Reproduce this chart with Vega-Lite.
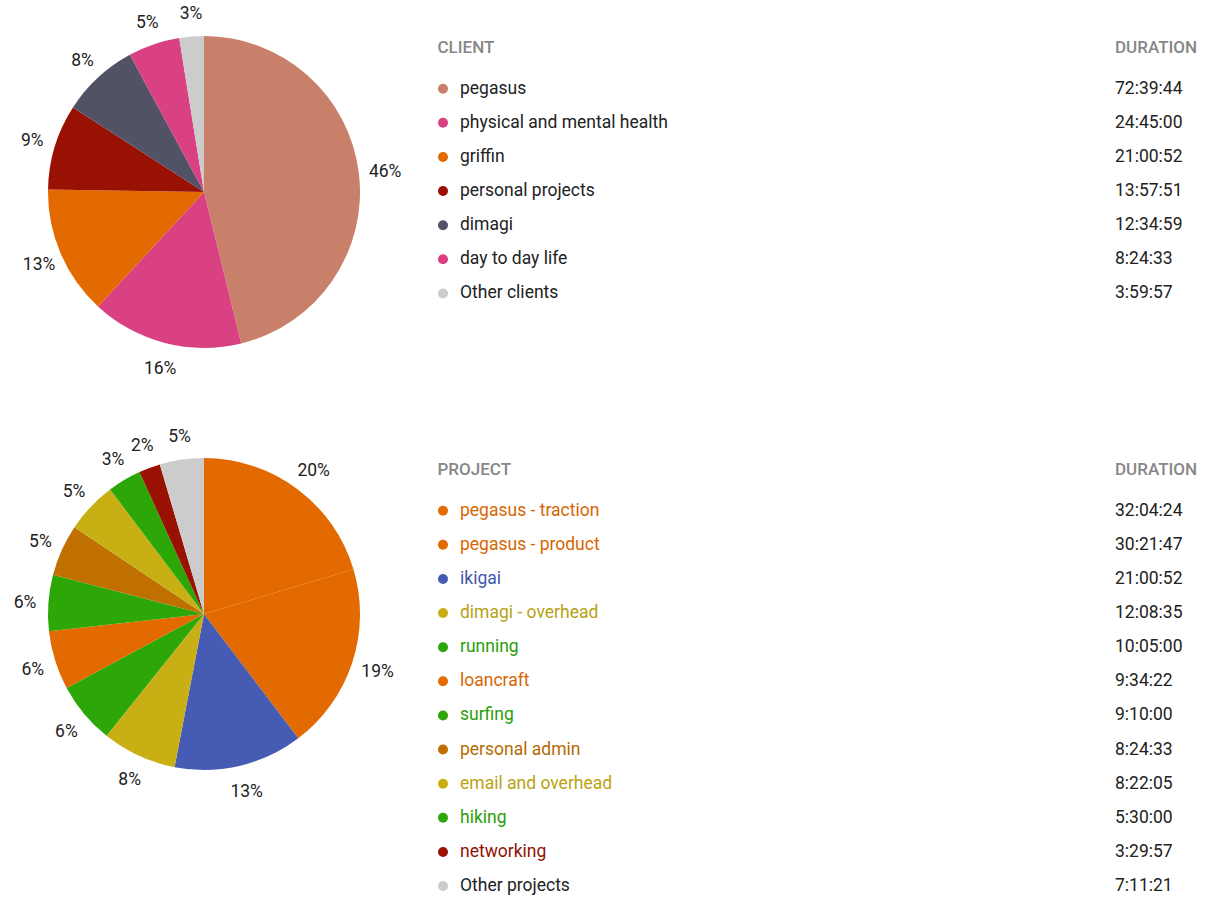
{
  "$schema": "https://vega.github.io/schema/vega-lite/v6.json",
  "padding": 0,
  "background": "white",
  "config": {"view": {"stroke": null}, "font": "Roboto"},
  "datasets": {
    "clients": [
      {"order": 1, "name": "pegasus", "sec": 261584, "duration": "72:39:44", "pct": "46%"},
      {"order": 2, "name": "physical and mental health", "sec": 89100, "duration": "24:45:00", "pct": "16%"},
      {"order": 3, "name": "griffin", "sec": 75652, "duration": "21:00:52", "pct": "13%"},
      {"order": 4, "name": "personal projects", "sec": 50271, "duration": "13:57:51", "pct": "9%"},
      {"order": 5, "name": "dimagi", "sec": 45299, "duration": "12:34:59", "pct": "8%"},
      {"order": 6, "name": "day to day life", "sec": 30273, "duration": "8:24:33", "pct": "5%"},
      {"order": 7, "name": "Other clients", "sec": 14397, "duration": "3:59:57", "pct": "3%"}
    ],
    "projects": [
      {"order": 1, "name": "pegasus - traction", "sec": 115464, "duration": "32:04:24", "pct": "20%"},
      {"order": 2, "name": "pegasus - product", "sec": 109307, "duration": "30:21:47", "pct": "19%"},
      {"order": 3, "name": "ikigai", "sec": 75652, "duration": "21:00:52", "pct": "13%"},
      {"order": 4, "name": "dimagi - overhead", "sec": 43715, "duration": "12:08:35", "pct": "8%"},
      {"order": 5, "name": "running", "sec": 36300, "duration": "10:05:00", "pct": "6%"},
      {"order": 6, "name": "loancraft", "sec": 34462, "duration": "9:34:22", "pct": "6%"},
      {"order": 7, "name": "surfing", "sec": 33000, "duration": "9:10:00", "pct": "6%"},
      {"order": 8, "name": "personal admin", "sec": 30273, "duration": "8:24:33", "pct": "5%"},
      {"order": 9, "name": "email and overhead", "sec": 30125, "duration": "8:22:05", "pct": "5%"},
      {"order": 10, "name": "hiking", "sec": 19800, "duration": "5:30:00", "pct": "3%"},
      {"order": 11, "name": "networking", "sec": 12597, "duration": "3:29:57", "pct": "2%"},
      {"order": 12, "name": "Other projects", "sec": 25881, "duration": "7:11:21", "pct": "5%"}
    ]
  },
  "columns": 2,
  "align": "each",
  "bounds": "flush",
  "spacing": {"row": 38, "column": 52},
  "resolve": {"scale": {"color": "independent", "fill": "independent", "x": "independent", "y": "independent", "theta": "independent"}},
  "concat": [
    {
      "width": 408,
      "height": 384,
      "data": {"name": "clients"},
      "encoding": {
        "theta": {"field": "sec", "type": "quantitative", "stack": true},
        "order": {"field": "order", "type": "quantitative"}
      },
      "layer": [
        {
          "mark": {"type": "arc", "outerRadius": 156},
          "encoding": {
            "color": {"field": "name", "type": "nominal", "legend": null,
              "scale": {"domain": ["pegasus", "physical and mental health", "griffin", "personal projects", "dimagi", "day to day life", "Other clients"],
                        "range": ["#c9806b", "#d94182", "#e36a00", "#991102", "#525266", "#d94182", "#cccccc"]}}
          }
        },
        {
          "mark": {"type": "text", "radius": 181, "font": "Roboto", "fontSize": 17.5, "fill": "#222222", "align": "center", "baseline": "middle", "dx": 1.5, "dy": 2},
          "encoding": {"text": {"field": "pct"}}
        }
      ]
    },
    {
      "width": 655,
      "height": {"step": 34.12},
      "data": {"name": "clients"},
      "encoding": {
        "y": {"field": "order", "type": "ordinal", "scale": {"type": "point", "padding": 0.8, "align": 1}, "axis": null}
      },
      "layer": [
        {
          "mark": {"type": "point", "filled": true, "size": 100, "opacity": 1, "xOffset": -17},
          "encoding": {
            "x": {"datum": "label", "type": "nominal", "scale": {"type": "point", "domain": ["label", "duration"], "padding": 0}, "axis": null},
            "color": {"field": "name", "type": "nominal", "legend": null,
              "scale": {"domain": ["pegasus", "physical and mental health", "griffin", "personal projects", "dimagi", "day to day life", "Other clients"],
                        "range": ["#c9806b", "#d94182", "#e36a00", "#991102", "#525266", "#d94182", "#cccccc"]}}
          }
        },
        {
          "mark": {"type": "text", "align": "left", "baseline": "middle", "font": "Roboto", "fontSize": 17.5, "fill": "#222222"},
          "encoding": {"x": {"datum": "label", "type": "nominal"}, "text": {"field": "name"}}
        },
        {
          "mark": {"type": "text", "align": "left", "baseline": "middle", "font": "Roboto", "fontSize": 17.5, "fill": "#222222"},
          "encoding": {"x": {"datum": "duration", "type": "nominal"}, "text": {"field": "duration"}}
        },
        {
          "data": {"values": [{"order": 0, "a": "CLIENT", "b": "DURATION"}]},
          "mark": {"type": "text", "align": "left", "baseline": "middle", "font": "Roboto", "fontSize": 17, "fontWeight": 500, "fill": "#878787", "dx": -22.5, "dy": -7},
          "encoding": {"x": {"datum": "label", "type": "nominal"}, "text": {"field": "a"}}
        },
        {
          "data": {"values": [{"order": 0, "a": "CLIENT", "b": "DURATION"}]},
          "mark": {"type": "text", "align": "left", "baseline": "middle", "font": "Roboto", "fontSize": 17, "fontWeight": 500, "fill": "#878787", "dy": -7},
          "encoding": {"x": {"datum": "duration", "type": "nominal"}, "text": {"field": "b"}}
        }
      ]
    },
    {
      "width": 408,
      "height": 384,
      "data": {"name": "projects"},
      "encoding": {
        "theta": {"field": "sec", "type": "quantitative", "stack": true},
        "order": {"field": "order", "type": "quantitative"}
      },
      "layer": [
        {
          "mark": {"type": "arc", "outerRadius": 156},
          "encoding": {
            "color": {"field": "name", "type": "nominal", "legend": null,
              "scale": {"domain": ["pegasus - traction", "pegasus - product", "ikigai", "dimagi - overhead", "running", "loancraft", "surfing", "personal admin", "email and overhead", "hiking", "networking", "Other projects"],
                        "range": ["#e36a00", "#e36a00", "#465bb3", "#c7af14", "#2da608", "#e36a00", "#2da608", "#bf7000", "#c7af14", "#2da608", "#991102", "#cccccc"]}}
          }
        },
        {
          "mark": {"type": "text", "radius": 181, "font": "Roboto", "fontSize": 17.5, "fill": "#222222", "align": "center", "baseline": "middle", "dx": 1.5, "dy": 2},
          "encoding": {"text": {"field": "pct"}}
        }
      ]
    },
    {
      "width": 655,
      "height": {"step": 34.12},
      "data": {"name": "projects"},
      "encoding": {
        "y": {"field": "order", "type": "ordinal", "scale": {"type": "point", "padding": 0.8, "align": 1}, "axis": null}
      },
      "layer": [
        {
          "mark": {"type": "point", "filled": true, "size": 100, "opacity": 1, "xOffset": -17},
          "encoding": {
            "x": {"datum": "label", "type": "nominal", "scale": {"type": "point", "domain": ["label", "duration"], "padding": 0}, "axis": null},
            "color": {"field": "name", "type": "nominal", "legend": null,
              "scale": {"domain": ["pegasus - traction", "pegasus - product", "ikigai", "dimagi - overhead", "running", "loancraft", "surfing", "personal admin", "email and overhead", "hiking", "networking", "Other projects"],
                        "range": ["#e36a00", "#e36a00", "#465bb3", "#c7af14", "#2da608", "#e36a00", "#2da608", "#bf7000", "#c7af14", "#2da608", "#991102", "#cccccc"]}}
          }
        },
        {
          "mark": {"type": "text", "align": "left", "baseline": "middle", "font": "Roboto", "fontSize": 17.5},
          "encoding": {
            "x": {"datum": "label", "type": "nominal"},
            "text": {"field": "name"},
            "fill": {"field": "name", "type": "nominal", "legend": null,
              "scale": {"domain": ["pegasus - traction", "pegasus - product", "ikigai", "dimagi - overhead", "running", "loancraft", "surfing", "personal admin", "email and overhead", "hiking", "networking", "Other projects"],
                        "range": ["#d96500", "#d96500", "#4356ab", "#b9a212", "#2a9e08", "#d96500", "#2a9e08", "#b56a00", "#b9a212", "#2a9e08", "#911002", "#222222"]}}
          }
        },
        {
          "mark": {"type": "text", "align": "left", "baseline": "middle", "font": "Roboto", "fontSize": 17.5, "fill": "#222222"},
          "encoding": {"x": {"datum": "duration", "type": "nominal"}, "text": {"field": "duration"}}
        },
        {
          "data": {"values": [{"order": 0, "a": "PROJECT", "b": "DURATION"}]},
          "mark": {"type": "text", "align": "left", "baseline": "middle", "font": "Roboto", "fontSize": 17, "fontWeight": 500, "fill": "#878787", "dx": -22.5, "dy": -7},
          "encoding": {"x": {"datum": "label", "type": "nominal"}, "text": {"field": "a"}}
        },
        {
          "data": {"values": [{"order": 0, "a": "PROJECT", "b": "DURATION"}]},
          "mark": {"type": "text", "align": "left", "baseline": "middle", "font": "Roboto", "fontSize": 17, "fontWeight": 500, "fill": "#878787", "dy": -7},
          "encoding": {"x": {"datum": "duration", "type": "nominal"}, "text": {"field": "b"}}
        }
      ]
    }
  ]
}
